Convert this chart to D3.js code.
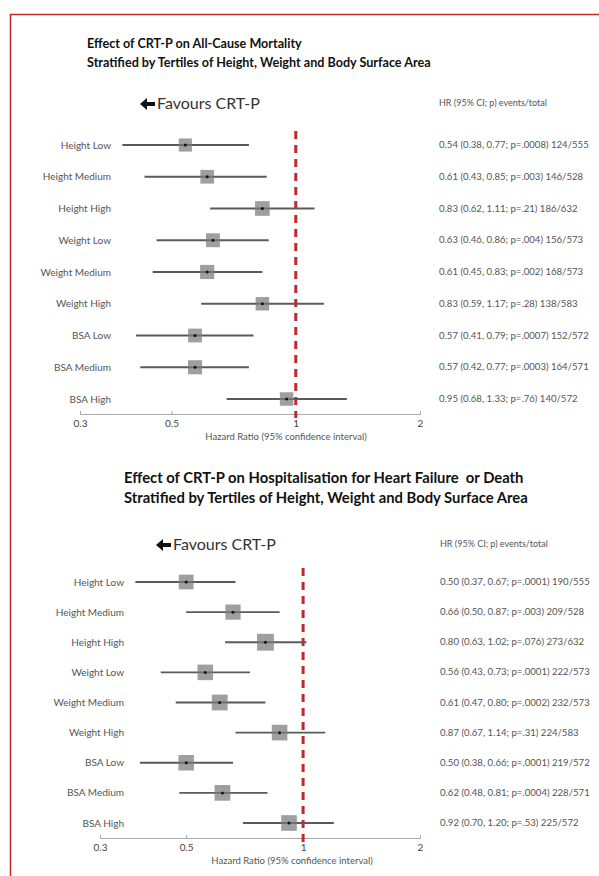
<!DOCTYPE html>
<html lang="en">
<head>
    <meta charset="utf-8">
    <title>CRT-P forest plots</title>
    <script type="text/javascript" src="https://cdn.jsdelivr.net/npm/d3@7"></script>
    <style>
        body { margin: 0; background: #fff; }
        text { font-family: Lato, "Open Sans", sans-serif; }
    </style>
</head>
<body>
    <script type="text/javascript">

        // categories shared by both panels
        var categories = ["Height Low", "Height Medium", "Height High",
                          "Weight Low", "Weight Medium", "Weight High",
                          "BSA Low", "BSA Medium", "BSA High"];
        var tickValues = [0.3, 0.5, 1, 2];

        // all-cause mortality
        var mortHR     = [0.54, 0.61, 0.83, 0.63, 0.61, 0.83, 0.57, 0.57, 0.95];
        var mortLow    = [0.38, 0.43, 0.62, 0.46, 0.45, 0.59, 0.41, 0.42, 0.68];
        var mortHigh   = [0.77, 0.85, 1.11, 0.86, 0.83, 1.17, 0.79, 0.77, 1.33];
        var mortP      = [".0008", ".003", ".21", ".004", ".002", ".28", ".0007", ".0003", ".76"];
        var mortEvents = [124, 146, 186, 156, 168, 138, 152, 164, 140];
        var mortTotal  = [555, 528, 632, 573, 573, 583, 572, 571, 572];

        // HF hospitalisation or death
        var hfHR     = [0.50, 0.66, 0.80, 0.56, 0.61, 0.87, 0.50, 0.62, 0.92];
        var hfLow    = [0.37, 0.50, 0.63, 0.43, 0.47, 0.67, 0.38, 0.48, 0.70];
        var hfHigh   = [0.67, 0.87, 1.02, 0.73, 0.80, 1.14, 0.66, 0.81, 1.20];
        var hfP      = [".0001", ".003", ".076", ".0001", ".0002", ".31", ".0001", ".0004", ".53"];
        var hfEvents = [190, 209, 273, 222, 232, 224, 219, 228, 225];
        var hfTotal  = [555, 528, 632, 573, 573, 583, 572, 571, 572];

        var w = 599;
        var h = 876;

        var svg = d3.select("body")
            .append("svg")
            .attr("width", w)
            .attr("height", h)

        // red frame
        svg.append("rect")
            .attr("x", 10.5)
            .attr("y", 14.5)
            .attr("width", 640)
            .attr("height", 900)
            .attr("fill", "none")
            .attr("stroke", "#c0282a")
            .attr("stroke-width", 1.5)

        var boxSize = d3.scaleLinear().domain([100, 280]).range([12.5, 17]);

        function fmt2(v) { return v.toFixed(2); }

        function forest(o) {
            var rows = categories.map(function(c, i) {
                return {name: c, hr: o.hr[i], lo: o.lo[i], hi: o.hi[i], p: o.p[i], ev: o.ev[i], tot: o.tot[i]};
            });

            var x = d3.scaleLog().domain([0.3, 2]).range(o.xRange);
            var y = d3.scalePoint().domain(categories).range(o.yRange);

            var g = svg.append("g");

            // title
            g.selectAll(".title")
                .data(o.title)
                .enter()
                .append("text")
                .attr("x", o.titleX)
                .attr("y", function(d, i){return o.titleY + i * o.titleGap;})
                .attr("font-size", o.titleSize)
                .attr("font-weight", "bold")
                .attr("fill", "#111")
                .style("white-space", "pre")
                .text(function(d){return d;})

            // favours label with a heavy left arrow
            var ax0 = o.favX, ay0 = o.favY - 5;
            g.append("path")
                .attr("d", "M" + ax0 + "," + ay0 +
                           " l7,-6 v4 h8 v4 h-8 v4 z")
                .attr("fill", "#111")

            g.append("text")
                .attr("x", o.favX + 17)
                .attr("y", o.favY)
                .attr("font-size", 16)
                .attr("fill", "#333")
                .text("Favours CRT-P")

            g.append("text")
                .attr("x", o.textX)
                .attr("y", o.favY - 3)
                .attr("font-size", 9)
                .attr("fill", "#555")
                .text("HR (95% CI; p) events/total")

            // axis
            var axis = d3.axisBottom(x)
                .tickValues(tickValues)
                .tickSize(-3)
                .tickFormat(function(d){return String(d);});

            var ax = g.append("g")
                .attr("transform", "translate(0," + o.axisY + ")")
                .call(axis);
            ax.select(".domain").attr("stroke", "#aaa");
            ax.selectAll(".tick line").attr("stroke", "#aaa");
            ax.selectAll(".tick text")
                .attr("y", 6)
                .attr("font-family", "Lato, sans-serif")
                .attr("font-size", 10)
                .attr("fill", "#444");

            g.append("text")
                .attr("x", o.axisTitleX)
                .attr("y", o.axisY + 26)
                .attr("text-anchor", "middle")
                .attr("font-size", 9.5)
                .attr("fill", "#555")
                .text("Hazard Ratio (95% confidence interval)")

            // reference line at HR = 1
            g.append("line")
                .attr("x1", x(1))
                .attr("x2", x(1))
                .attr("y1", o.yRange[0] - 14)
                .attr("y2", o.axisY + 4)
                .attr("stroke", "#c0282a")
                .attr("stroke-width", 3)
                .attr("stroke-dasharray", "8,6")

            // row labels
            g.selectAll(".lab")
                .data(rows)
                .enter()
                .append("text")
                .attr("x", o.labelX)
                .attr("y", function(d){return y(d.name) + 3.5;})
                .attr("text-anchor", "end")
                .attr("font-size", 10)
                .attr("fill", "#555")
                .text(function(d){return d.name;})

            // confidence intervals
            g.selectAll(".ci")
                .data(rows)
                .enter()
                .append("line")
                .attr("x1", function(d){return x(d.lo);})
                .attr("x2", function(d){return x(d.hi);})
                .attr("y1", function(d){return y(d.name);})
                .attr("y2", function(d){return y(d.name);})
                .attr("stroke", "#5a5a5a")
                .attr("stroke-width", 1.8)

            // boxes
            g.selectAll(".box")
                .data(rows)
                .enter()
                .append("rect")
                .attr("x", function(d){return x(d.hr) - boxSize(d.ev) / 2;})
                .attr("y", function(d){return y(d.name) - boxSize(d.ev) / 2;})
                .attr("width", function(d){return boxSize(d.ev);})
                .attr("height", function(d){return boxSize(d.ev);})
                .attr("fill", "#7a7a7a")
                .attr("fill-opacity", 0.72)

            g.selectAll(".dot")
                .data(rows)
                .enter()
                .append("circle")
                .attr("cx", function(d){return x(d.hr);})
                .attr("cy", function(d){return y(d.name);})
                .attr("r", 1.5)
                .attr("fill", "#111")

            // right-hand text
            g.selectAll(".res")
                .data(rows)
                .enter()
                .append("text")
                .attr("x", o.textX)
                .attr("y", function(d){return y(d.name) + 3;})
                .attr("font-size", 9.6)
                .attr("fill", "#555")
                .text(function(d){
                    return fmt2(d.hr) + " (" + fmt2(d.lo) + ", " + fmt2(d.hi) + "; p=" + d.p + ") " + d.ev + "/" + d.tot;
                })
        }

        forest({
            title: ["Effect of CRT-P on All-Cause Mortality",
                    "Stratified by Tertiles of Height, Weight and Body Surface Area"],
            hr: mortHR, lo: mortLow, hi: mortHigh, p: mortP, ev: mortEvents, tot: mortTotal,
            titleX: 87, titleY: 48, titleGap: 19, titleSize: 12.6,
            favX: 140, favY: 109, textX: 439,
            labelX: 111, yRange: [145, 399],
            xRange: [80, 420], axisY: 414, axisTitleX: 286
        });

        forest({
            title: ["Effect of CRT-P on Hospitalisation for Heart Failure  or Death",
                    "Stratified by Tertiles of Height, Weight and Body Surface Area"],
            hr: hfHR, lo: hfLow, hi: hfHigh, p: hfP, ev: hfEvents, tot: hfTotal,
            titleX: 124, titleY: 483, titleGap: 20, titleSize: 14.8,
            favX: 156, favY: 550, textX: 440,
            labelX: 124, yRange: [582, 823],
            xRange: [100, 420], axisY: 838, axisTitleX: 292
        });

    </script>
</body>
</html>
